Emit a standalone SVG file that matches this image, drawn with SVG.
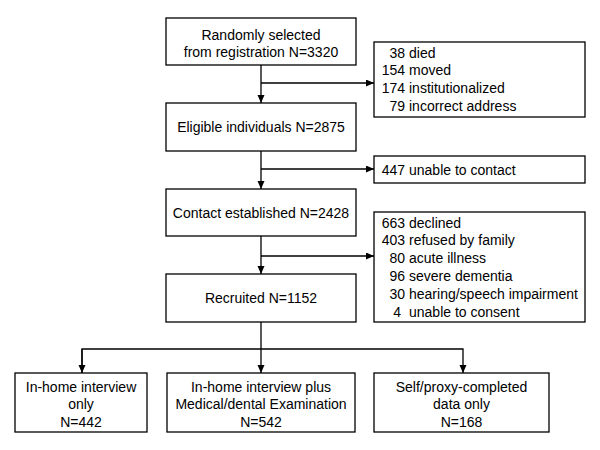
<svg xmlns="http://www.w3.org/2000/svg" width="600" height="450" viewBox="0 0 600 450">
<defs>
<marker id="ah" markerWidth="8" markerHeight="8" refX="8" refY="3.5" orient="auto" markerUnits="userSpaceOnUse">
<path d="M0,0 L8,3.5 L0,7 z" fill="#000"/>
</marker>
<style>
.box{fill:#fff;stroke:#000;stroke-width:1.3}
.t{font-family:"Liberation Sans",Arial,sans-serif;font-size:14px;fill:#000}
.c{text-anchor:middle}
.e{text-anchor:end}
.ln{fill:none;stroke:#000;stroke-width:1.3}
</style>
</defs>
<rect width="600" height="450" fill="#fff"/>
<g id="connectors">
<path class="ln" d="M261,65 V103" marker-end="url(#ah)"/>
<path class="ln" d="M261,83 H374" marker-end="url(#ah)"/>
<path class="ln" d="M261,151 V189" marker-end="url(#ah)"/>
<path class="ln" d="M261,169 H374" marker-end="url(#ah)"/>
<path class="ln" d="M261,236 V274" marker-end="url(#ah)"/>
<path class="ln" d="M261,256 H374" marker-end="url(#ah)"/>
<path class="ln" d="M261,322 V373" marker-end="url(#ah)"/>
<path class="ln" d="M82,373 V349 H463 V373" marker-end="url(#ah)"/>
<path class="ln" d="M82,349 V373" marker-end="url(#ah)"/>
</g>
<g id="n1">
<rect class="box" x="166" y="18" width="190" height="47"/>
<text class="t c" x="261" y="39.5">Randomly selected</text>
<text class="t c" x="261" y="57">from registration N=3320</text>
</g>
<g id="x1">
<rect class="box" x="374" y="42" width="211" height="75"/>
<text class="t"><tspan x="405" y="57.5" class="e">38</tspan><tspan x="409" y="57.5">died</tspan></text>
<text class="t"><tspan x="405" y="75.3" class="e">154</tspan><tspan x="409" y="75.3">moved</tspan></text>
<text class="t"><tspan x="405" y="93" class="e">174</tspan><tspan x="409" y="93">institutionalized</tspan></text>
<text class="t"><tspan x="405" y="111" class="e">79</tspan><tspan x="409" y="111">incorrect address</tspan></text>
</g>
<g id="n2">
<rect class="box" x="166" y="103" width="190" height="48"/>
<text class="t c" x="261" y="132">Eligible individuals N=2875</text>
</g>
<g id="x2">
<rect class="box" x="374" y="156" width="211" height="27"/>
<text class="t"><tspan x="405" y="174.5" class="e">447</tspan><tspan x="409" y="174.5">unable to contact</tspan></text>
</g>
<g id="n3">
<rect class="box" x="166" y="189" width="190" height="47"/>
<text class="t c" x="261" y="217.5">Contact established N=2428</text>
</g>
<g id="x3">
<rect class="box" x="374" y="212" width="211" height="110"/>
<text class="t"><tspan x="405" y="227.5" class="e">663</tspan><tspan x="409" y="227.5">declined</tspan></text>
<text class="t"><tspan x="405" y="245.3" class="e">403</tspan><tspan x="409" y="245.3">refused by family</tspan></text>
<text class="t"><tspan x="405" y="263.1" class="e">80</tspan><tspan x="409" y="263.1">acute illness</tspan></text>
<text class="t"><tspan x="405" y="280.9" class="e">96</tspan><tspan x="409" y="280.9">severe dementia</tspan></text>
<text class="t"><tspan x="405" y="298.7" class="e">30</tspan><tspan x="409" y="298.7">hearing/speech impairment</tspan></text>
<text class="t"><tspan x="401" y="316.5" class="e">4</tspan><tspan x="409" y="316.5">unable to consent</tspan></text>
</g>
<g id="n4">
<rect class="box" x="166" y="274" width="190" height="48"/>
<text class="t c" x="261" y="303">Recruited N=1152</text>
</g>
<g id="b1">
<rect class="box" x="15" y="373" width="132" height="59"/>
<text class="t c" x="81" y="391.5">In-home interview</text>
<text class="t c" x="81" y="409.2">only</text>
<text class="t c" x="81" y="426.8">N=442</text>
</g>
<g id="b2">
<rect class="box" x="167" y="373" width="188" height="59"/>
<text class="t c" x="261" y="391.5">In-home interview plus</text>
<text class="t c" x="261" y="409.2">Medical/dental Examination</text>
<text class="t c" x="261" y="426.8">N=542</text>
</g>
<g id="b3">
<rect class="box" x="374" y="373" width="175" height="59"/>
<text class="t c" x="461.5" y="391.5">Self/proxy-completed</text>
<text class="t c" x="461.5" y="409.2">data only</text>
<text class="t c" x="461.5" y="426.8">N=168</text>
</g>
</svg>
